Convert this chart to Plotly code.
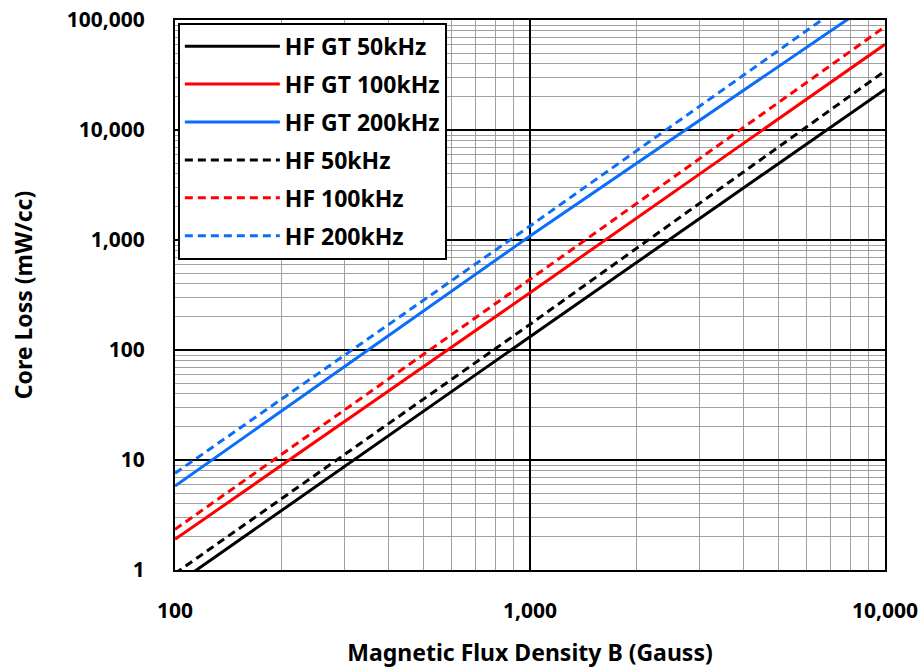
import plotly.graph_objects as go

# Data (B in Gauss, core loss in mW/cc)
b_gauss = [100, 1000, 10000]
hf_gt_50 = [0.73, 132, 23400]
hf_gt_100 = [1.9, 332, 60100]
hf_gt_200 = [5.8, 1088, 172700]
hf_50 = [0.93, 171, 34400]
hf_100 = [2.34, 439, 86900]
hf_200 = [7.57, 1340, 255000]

series_names = ["HF GT 50kHz", "HF GT 100kHz", "HF GT 200kHz", "HF 50kHz", "HF 100kHz", "HF 200kHz"]
series_vals = [hf_gt_50, hf_gt_100, hf_gt_200, hf_50, hf_100, hf_200]
series_colors = ["#000000", "#FF0000", "#0A6EFA", "#000000", "#FF0000", "#0A6EFA"]
series_dash = ["solid", "solid", "solid", "8px,5px", "8px,5px", "8px,5px"]

x_ticks = [100, 1000, 10000]
x_ticklabels = ["100", "1,000", "10,000"]
y_ticks = [1, 10, 100, 1000, 10000, 100000]
y_ticklabels = ["1", "10", "100", "1,000", "10,000", "100,000"]

FONT = "Noto Sans"

fig = go.Figure()
for i, (name, vals, col, dash) in enumerate(zip(series_names, series_vals, series_colors, series_dash)):
    fig.add_trace(go.Scatter(x=b_gauss, y=vals, mode="lines", name=name,
                             legendgroup="g%d" % i,
                             line=dict(color=col, width=3, dash=dash)))

axis_common = dict(
    type="log", showline=True, linecolor="black", linewidth=2, mirror=True,
    showgrid=True, gridcolor="black", gridwidth=1.5,
    ticks="", zeroline=False, automargin=False,
    tickfont=dict(family=FONT, size=21, color="black", weight="bold"),
    minor=dict(showgrid=True, gridcolor="#A0A0A0", gridwidth=1, dtick="D1", ticks=""),
)

fig.update_layout(
    width=922, height=668,
    margin=dict(l=175, r=37, t=20, b=98),
    plot_bgcolor="white", paper_bgcolor="white",
    font=dict(family=FONT, color="black"),
    xaxis=dict(axis_common, range=[2, 4], tickvals=x_ticks, ticktext=x_ticklabels,
               ticklabelstandoff=21,
               title=dict(text="Magnetic Flux Density B (Gauss)", standoff=26,
                          font=dict(family=FONT, size=23, color="black", weight="bold"))),
    yaxis=dict(axis_common, range=[0, 5], tickvals=y_ticks, ticktext=y_ticklabels,
               ticklabelstandoff=24,
               title=dict(text="Core Loss (mW/cc)", standoff=28,
                          font=dict(family=FONT, size=23, color="black", weight="bold"))),
    legend=dict(x=0.004, y=0.995, xanchor="left", yanchor="top",
                bgcolor="white", bordercolor="black", borderwidth=2,
                font=dict(family=FONT, size=23, color="black", weight="bold"),
                tracegroupgap=5, itemwidth=95),
    showlegend=True,
)

fig.write_html("out.html")
